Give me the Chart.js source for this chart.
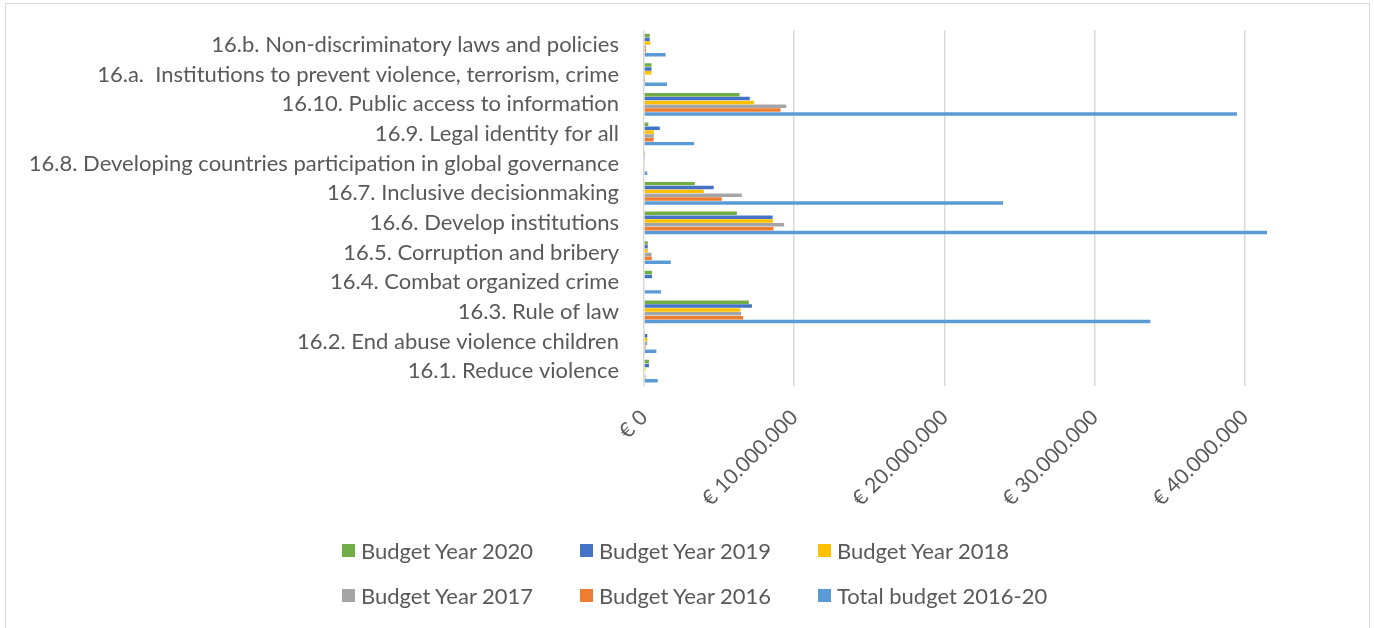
<!DOCTYPE html>
<html>
<head>
<meta charset="utf-8">
<script src="https://cdn.jsdelivr.net/npm/chart.js@4/dist/chart.umd.min.js"></script>
<style>
  body { margin: 0; background: #fff; }
  #wrap { position: relative; width: 1374px; height: 628px; overflow: hidden; }
  #frame { position: absolute; left: 5px; top: 3px; width: 1363px; height: 700px; border: 1px solid #d9d9d9; }
  #chart { position: absolute; left: 0; top: 0; }
  #legend { position: absolute; left: 342px; top: 528px; display: grid; grid-template-columns: 238px 238px 238px; grid-auto-rows: 45px;
            font-family: Lato, sans-serif; font-size: 22px; color: #595959; }
  #legend .item { display: flex; align-items: center; white-space: nowrap; }
  #legend .box { width: 13px; height: 13px; margin-right: 6px; flex: none; }
</style>
</head>
<body>
<div id="wrap">
  <div id="frame"></div>
  <canvas id="chart" width="1374" height="545"></canvas>
  <div id="legend"></div>
</div>
<script>
const categories = [
  '16.b. Non-discriminatory laws and policies',
  '16.a.  Institutions to prevent violence, terrorism, crime',
  '16.10. Public access to information',
  '16.9. Legal identity for all',
  '16.8. Developing countries participation in global governance',
  '16.7. Inclusive decisionmaking',
  '16.6. Develop institutions',
  '16.5. Corruption and bribery',
  '16.4. Combat organized crime',
  '16.3. Rule of law',
  '16.2. End abuse violence children',
  '16.1. Reduce violence'
];

const budget2020 = [380000, 500000, 6360000, 290000, 20000, 3380000, 6180000, 250000, 533000, 6980000, 60000, 330000];
const budget2019 = [380000, 500000, 7040000, 1050000, 60000, 4640000, 8560000, 250000, 533000, 7180000, 220000, 330000];
const budget2018 = [420000, 500000, 7310000, 660000, 60000, 3980000, 8580000, 250000, 50000, 6420000, 220000, 100000];
const budget2017 = [130000, 15000, 9470000, 660000, 40000, 6510000, 9330000, 500000, 0, 6470000, 220000, 50000];
const budget2016 = [130000, 15000, 9090000, 640000, 40000, 5180000, 8620000, 520000, 0, 6600000, 100000, 100000];
const totalBudget = [1440000, 1530000, 39470000, 3330000, 222000, 23900000, 41470000, 1780000, 1130000, 33700000, 822000, 911000];

const xTicks = [0, 10000000, 20000000, 30000000, 40000000];

const textColor = '#595959';

function euro(v) {
  return '€ ' + String(v).replace(/\B(?=(\d{3})+(?!\d))/g, '.');
}

const ctx = document.getElementById('chart').getContext('2d');

const chart = new Chart(ctx, {
  type: 'bar',
  data: {
    labels: categories,
    datasets: [
      { label: 'Budget Year 2020', data: budget2020, backgroundColor: '#70AD47' },
      { label: 'Budget Year 2019', data: budget2019, backgroundColor: '#4472C4' },
      { label: 'Budget Year 2018', data: budget2018, backgroundColor: '#FFC000' },
      { label: 'Budget Year 2017', data: budget2017, backgroundColor: '#A5A5A5' },
      { label: 'Budget Year 2016', data: budget2016, backgroundColor: '#ED7D31' },
      { label: 'Total budget 2016-20', data: totalBudget, backgroundColor: '#5B9BD5' }
    ]
  },
  options: {
    indexAxis: 'y',
    responsive: false,
    animation: false,
    barPercentage: 0.9,
    categoryPercentage: 0.78,
    layout: { padding: { top: 28, right: 84, left: 0, bottom: 0 } },
    plugins: {
      legend: { display: false },
      tooltip: { enabled: false }
    },
    scales: {
      y: {
        grid: { display: false },
        border: { display: false },
        ticks: { color: textColor, font: { family: 'Lato, sans-serif', size: 22 }, padding: 17 },
        afterFit(scale) { scale.width = 644; }
      },
      x: {
        min: 0,
        max: 43000000,
        grid: { color: '#d9d9d9', lineWidth: 1.5, drawTicks: false },
        border: { display: false },
        ticks: {
          stepSize: 10000000,
          includeBounds: false,
          minRotation: 45,
          maxRotation: 45,
          color: textColor,
          font: { family: 'Lato, sans-serif', size: 21 },
          padding: 19,
          callback: v => euro(v)
        },
        afterBuildTicks(scale) {
          scale.ticks = xTicks.map(value => ({ value }));
        },
        afterFit(scale) { scale.height = 159; }
      }
    }
  }
});

// legend in 3 fixed columns, like the original
const legendEl = document.getElementById('legend');
chart.data.datasets.forEach(ds => {
  const item = document.createElement('div');
  item.className = 'item';
  const box = document.createElement('span');
  box.className = 'box';
  box.style.background = ds.backgroundColor;
  item.appendChild(box);
  item.appendChild(document.createTextNode(ds.label));
  legendEl.appendChild(item);
});
</script>
</body>
</html>
